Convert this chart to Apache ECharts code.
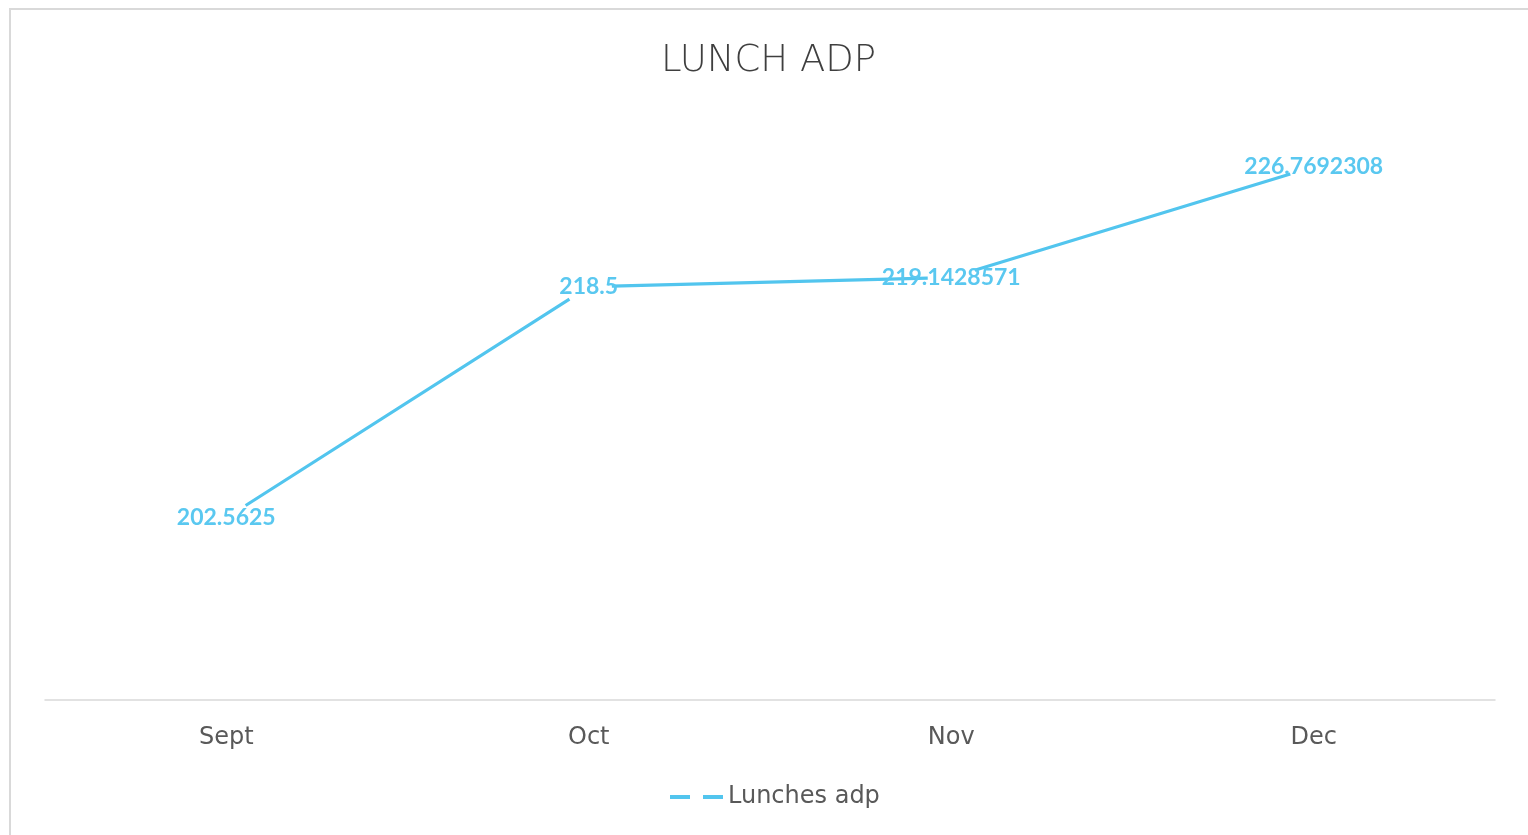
<!DOCTYPE html>
<html>
<head>
<meta charset="utf-8">
<script src="https://cdn.jsdelivr.net/npm/echarts@6/dist/echarts.min.js"></script>
<style>html,body{margin:0;padding:0;background:#fff}#c{width:1528px;height:835px}</style>
</head>
<body>
<div id="c"></div>
<script>
const categories = ['Sept', 'Oct', 'Nov', 'Dec'];
const lunchesAdp = [202.5625, 218.5, 219.1428571, 226.7692308];
const seriesName = 'Lunches adp';
const titleText = 'LUNCH ADP';

const lineColor = '#52C5EE';
const chart = echarts.init(document.getElementById('c'), null, {renderer: 'canvas'});
chart.setOption({
  animation: false,
  backgroundColor: '#fff',
  title: {
    text: titleText,
    left: 656,
    top: 38,
    textStyle: {fontFamily: 'DejaVu Sans', fontSize: 37, fontWeight: 300, color: '#3f3f3f'}
  },
  graphic: [{
    type: 'rect', z: -1, silent: true,
    shape: {x: 10, y: 9, width: 1600, height: 900},
    style: {fill: 'none', stroke: '#d9d9d9', lineWidth: 2}
  }],
  legend: {
    data: [seriesName],
    left: 665,
    top: 780,
    itemWidth: 53,
    itemHeight: 4,
    icon: 'path://M0,0H20V4H0Z M33,0H53V4H33Z',
    itemStyle: {color: lineColor, borderWidth: 0},
    textStyle: {fontFamily: 'DejaVu Sans', fontSize: 24, color: '#595959'}
  },
  grid: {left: 45, right: 33, top: 120, bottom: 135, containLabel: false},
  xAxis: {
    type: 'category',
    data: categories,
    boundaryGap: true,
    axisLine: {show: true, lineStyle: {color: '#d9d9d9', width: 1.5}},
    axisTick: {show: false},
    axisLabel: {fontFamily: 'DejaVu Sans', fontSize: 24, color: '#595959', margin: 26}
  },
  yAxis: {
    type: 'value', min: 190, max: 230, interval: 10,
    show: false,
    splitLine: {show: false}
  },
  series: [{
    name: seriesName,
    type: 'line',
    data: lunchesAdp,
    showSymbol: true,
    symbol: 'circle',
    symbolSize: 1,
    itemStyle: {color: 'rgba(0,0,0,0)'},
    lineStyle: {color: lineColor, width: 3.2, type: [384, 46, 316, 48, 330, 200], dashOffset: 1301, cap: 'butt'},
    label: {
      show: true,
      position: 'inside',
      fontFamily: 'Lato',
      fontWeight: 'bold',
      fontSize: 23,
      color: '#5AC8F0',
      formatter: p => String(p.value)
    }
  }]
});
</script>
</body>
</html>
